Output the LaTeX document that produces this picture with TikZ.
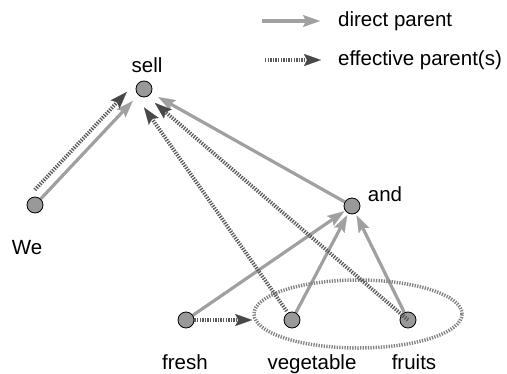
\documentclass[tikz,border=0pt]{standalone}
\usepackage{fontspec}
\setmainfont{Liberation Sans}
\usetikzlibrary{positioning}
\usetikzlibrary{calc}
\usetikzlibrary{arrows.meta}
\usetikzlibrary{shapes.geometric}
\usetikzlibrary{backgrounds}

\definecolor{directgray}{RGB}{160,160,160}
\definecolor{effgray}{RGB}{90,90,90}
\definecolor{effhead}{RGB}{72,72,72}
\definecolor{groupgray}{RGB}{130,130,130}
\definecolor{vtxgray}{RGB}{153,153,153}

\tikzset{
    vtx/.style={circle, draw=black, fill=vtxgray, line width=0.8pt, minimum size=16pt, inner sep=0pt},
    word/.style={font=\fontsize{20.5}{24}\selectfont, inner sep=0pt, anchor=base},
    legtext/.style={font=\fontsize{20.5}{24}\selectfont, inner sep=0pt},
    direct/.style={draw=directgray, line width=3.2pt, -{Stealth[length=17pt, width=12pt, inset=3pt, line width=0.1pt, color=directgray]}},
    effective/.style={draw=effgray, line width=3.8pt, dash pattern=on 1.3pt off 1.3pt, -{Stealth[length=17pt, width=12pt, inset=3pt, line width=0.1pt, color=effhead]}},
    grouped/.style={ellipse, draw=groupgray, line width=3.5pt, dash pattern=on 1.3pt off 1.3pt, minimum width=208pt, minimum height=68pt, inner sep=0pt}
}

\begin{document}
\begin{tikzpicture}[x=1pt, y=-1pt]
    \useasboundingbox (0,0) rectangle (507,373);

    \node[vtx] (sell) at (144,89) {};
    \node[vtx] (we) at (35,205) {};
    \node[vtx] (and) at (352,206) {};
    \node[vtx] (fresh) at (186,320) {};
    \node[vtx] (vegetable) at (292,320) {};
    \node[vtx] (fruits) at (408,320) {};
    \node[grouped] (group) at (358,314) {};

    \node[word] (sell-l) at (147,72) {sell};
    \node[word] (we-l) at (27,254) {We};
    \node[word] (and-l) at (385,201) {and};
    \node[word] (fresh-l) at (185,369) {fresh};
    \node[word] (vegetable-l) at (312,369) {vegetable};
    \node[word] (fruits-l) at (414,369) {fruits};

    \begin{scope}[on background layer]
        \draw[direct, shorten >=8pt] (we) -- (sell);
        \draw[direct, shorten >=8pt] (and) -- (sell);
        \draw[direct, shorten >=1pt] (fresh) -- (and);
        \draw[direct, shorten >=2pt] (vegetable) -- (and);
        \draw[direct, shorten >=2pt] (fruits) -- (and);
    \end{scope}

    \draw[effective, shorten <=11pt, shorten >=14pt] ($(we)!10.5pt!90:(sell)$) -- ($(sell)!10.5pt!-90:(we)$);
    \draw[effective, shorten <=2pt] (vegetable.120) -- ([yshift=-10pt]sell.south);
    \draw[effective] (fruits.center) -- ([xshift=5pt, yshift=-8pt]sell.south east);
    \draw[effective] (fresh) -- (fresh -| group.west);

    % legend
    \coordinate (dps) at (262,21);
    \coordinate (dpe) at (320,21);
    \coordinate (eps) at (265,60);
    \coordinate (epe) at (321,60);
    \draw[direct] (dps) -- (dpe);
    \draw[effective] (eps) -- (epe);
    \node[legtext, right=18pt of dpe] (dp) {direct parent};
    \node[legtext, right=17pt of epe] (ep) {effective parent(s)};
\end{tikzpicture}
\end{document}
